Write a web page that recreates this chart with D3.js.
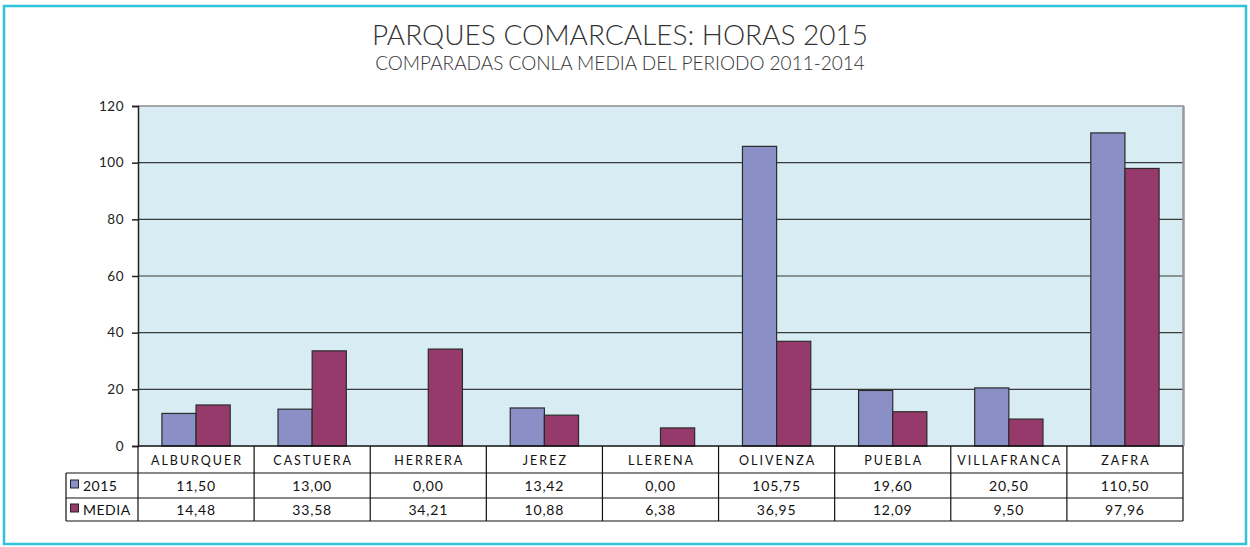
<!DOCTYPE html>
<html><head><meta charset="utf-8">
<script src="https://cdn.jsdelivr.net/npm/d3@7/dist/d3.min.js"></script>
<style>body{margin:0;background:#fff}svg{display:block}</style>
</head><body>
<svg id="c" width="1250" height="547"></svg>
<script>
const categories = ["ALBURQUER","CASTUERA","HERRERA","JEREZ","LLERENA","OLIVENZA","PUEBLA","VILLAFRANCA","ZAFRA"];
const series2015 = [11.50,13.00,0.00,13.42,0.00,105.75,19.60,20.50,110.50];
const seriesMedia = [14.48,33.58,34.21,10.88,6.38,36.95,12.09,9.50,97.96];
const seriesNames = ["2015","MEDIA"];
const yTicks = [0,20,40,60,80,100,120];
const fmt = v => v.toFixed(2).replace(".", ",");

const svg = d3.select("#c");
const colors = ["#8a8fc6","#963a6c"];
const L = 138, R = 1183, T = 106, B = 446;

// outer frame
svg.append("rect").attr("x",4).attr("y",6).attr("width",1242).attr("height",538)
  .attr("fill","none").attr("stroke","#2ec4da").attr("stroke-width",2.5);

// titles
svg.append("text").attr("x",620).attr("y",45).attr("text-anchor","middle")
  .attr("font-family","Lato").attr("font-weight",300).attr("font-size",28).attr("fill","#333")
  .text("PARQUES COMARCALES: HORAS 2015");
svg.append("text").attr("x",620).attr("y",70).attr("text-anchor","middle")
  .attr("font-family","Lato").attr("font-weight",300).attr("font-size",19).attr("fill","#333")
  .text("COMPARADAS CONLA MEDIA DEL PERIODO 2011-2014");

const x = d3.scaleBand().domain(categories).range([L,R]).paddingInner(0).paddingOuter(0);
const y = d3.scaleLinear().domain([0,120]).range([B,T]);
const xs = d3.scaleBand().domain(seriesNames).range([0,x.bandwidth()]).paddingInner(0).paddingOuter(0.7);

// plot bg
svg.append("rect").attr("x",L).attr("y",T).attr("width",R-L).attr("height",B-T).attr("fill","#d7edf3");

// gridlines
svg.append("g").selectAll("line").data(yTicks.filter(d=>d>0 && d<120)).join("line")
  .attr("x1",L).attr("x2",R).attr("y1",d=>y(d)).attr("y2",d=>y(d))
  .attr("stroke","#3a3a3a").attr("stroke-width",1.2);

// plot top/right border
svg.append("line").attr("x1",L).attr("x2",R+1).attr("y1",T).attr("y2",T).attr("stroke","#8c8c8c").attr("stroke-width",1.5);
svg.append("line").attr("x1",R+0.5).attr("x2",R+0.5).attr("y1",T).attr("y2",B).attr("stroke","#999").attr("stroke-width",2.5);

// bars
const data = categories.map((c,i)=>({c, vals:[series2015[i], seriesMedia[i]]}));
const g = svg.append("g").selectAll("g").data(data).join("g").attr("transform",d=>`translate(${x(d.c)},0)`);
g.selectAll("rect").data(d=>d.vals.map((v,j)=>({v,s:seriesNames[j],j}))).join("rect")
  .filter(d=>d.v>0)
  .attr("x",d=>xs(d.s)).attr("width",xs.bandwidth())
  .attr("y",d=>y(d.v)).attr("height",d=>y(0)-y(d.v))
  .attr("fill",d=>colors[d.j]).attr("stroke","#2b2b2b").attr("stroke-width",1.2);

// y axis
const yAxis = d3.axisLeft(y).tickValues(yTicks).tickSize(6).tickPadding(8).tickFormat(d3.format("d"));
const ya = svg.append("g").attr("transform",`translate(${L},0)`).call(yAxis);
ya.select(".domain").attr("stroke","#222").attr("stroke-width",1.5);
ya.selectAll(".tick line").attr("stroke","#222").attr("stroke-width",1.5);
ya.selectAll("text").attr("font-family","Lato").attr("font-size",13.5).attr("fill","#222").attr("letter-spacing","0.5px");

// table
const tbl = svg.append("g").attr("font-family","Lato").attr("fill","#111");
const lineC = "#111";
tbl.append("line").attr("x1",L).attr("x2",R).attr("y1",B).attr("y2",B).attr("stroke",lineC).attr("stroke-width",1.5);
[473,498,521].forEach(yy=>tbl.append("line").attr("x1",66).attr("x2",R).attr("y1",yy).attr("y2",yy).attr("stroke",lineC).attr("stroke-width",1.2));
tbl.append("line").attr("x1",66).attr("x2",66).attr("y1",473).attr("y2",521).attr("stroke",lineC).attr("stroke-width",1.2);
categories.forEach(c=>tbl.append("line").attr("x1",x(c)).attr("x2",x(c)).attr("y1",B).attr("y2",521).attr("stroke",lineC).attr("stroke-width",1.2));
tbl.append("line").attr("x1",R).attr("x2",R).attr("y1",B).attr("y2",521).attr("stroke",lineC).attr("stroke-width",1.2);
tbl.selectAll("text.cat").data(categories).join("text").attr("class","cat")
  .attr("x",d=>x(d)+x.bandwidth()/2+1).attr("y",465).attr("text-anchor","middle")
  .attr("font-size",12.5).attr("letter-spacing","2px").attr("fill","#111").text(d=>d);
[series2015, seriesMedia].forEach((arr,j)=>{
  const cy = j===0 ? 490.5 : 514.5;
  tbl.selectAll("text.v"+j).data(arr).join("text").attr("class","v"+j)
    .attr("x",(d,i)=>x(categories[i])+x.bandwidth()/2).attr("y",cy).attr("text-anchor","middle")
    .attr("font-size",14).attr("letter-spacing","0.8px").attr("fill","#111").text(d=>fmt(d));
  tbl.append("rect").attr("x",70.5).attr("y",cy-10.5).attr("width",8).attr("height",8)
    .attr("fill",colors[j]).attr("stroke","#222").attr("stroke-width",1);
  tbl.append("text").attr("x",83).attr("y",cy).attr("font-size",14).attr("letter-spacing","0.5px").attr("fill","#111").text(seriesNames[j]);
});
</script>
</body></html>
